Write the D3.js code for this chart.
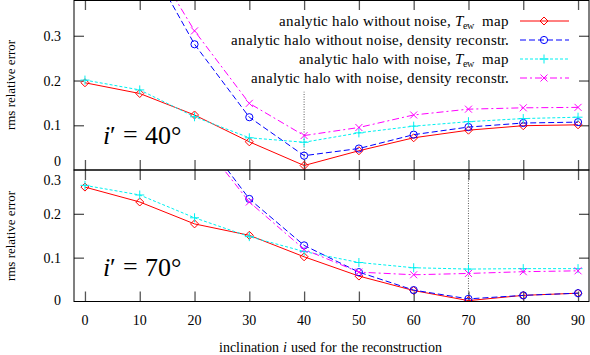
<!DOCTYPE html>
<html><head><meta charset="utf-8">
<script src="https://cdn.jsdelivr.net/npm/d3@7"></script>
<style>
@font-face{font-family:"ChartSerif";src:local("Liberation Serif"),local("LiberationSerif"),local("Times New Roman"),local("Tinos");font-style:normal;font-weight:400}
@font-face{font-family:"ChartSerif";src:local("Liberation Serif Italic"),local("LiberationSerif-Italic"),local("Times New Roman Italic");font-style:italic;font-weight:400}
html,body{margin:0;background:#fff}
svg text, svg tspan{font-family:"ChartSerif","Liberation Serif","Times New Roman",serif !important}
</style>
</head><body><svg id="c" width="590" height="355"></svg>
<script>
const inclinations = [0,10,20,30,40,50,60,70,80,90];
const xTicks = [0,10,20,30,40,50,60,70,80,90];
const topTicks = [0.1,0.2,0.3];
const botTicks = [0.1,0.2];
// i' = 40 panel
const top_TewNoNoise   = [0.195,0.171,0.123,0.063,0.010,0.043,0.072,0.089,0.099,0.101];
const top_DensNoNoise  = [0.72,0.50,0.281,0.118,0.032,0.048,0.079,0.096,0.105,0.107];
const top_TewNoise     = [0.201,0.179,0.119,0.072,0.062,0.083,0.098,0.108,0.115,0.118];
const top_DensNoise    = [0.74,0.514,0.311,0.149,0.077,0.095,0.123,0.136,0.139,0.140];
// i' = 70 panel
const bot_TewNoNoise   = [0.261,0.227,0.177,0.151,0.102,0.058,0.025,0.002,0.014,0.019];
const bot_DensNoNoise  = [0.80,0.58,0.40,0.234,0.128,0.067,0.026,0.006,0.014,0.019];
const bot_TewNoise     = [0.265,0.243,0.191,0.148,0.114,0.089,0.077,0.074,0.075,0.075];
const bot_DensNoise    = [0.78,0.56,0.386,0.227,0.119,0.067,0.061,0.064,0.068,0.070];
const legendLabels = ["analytic halo without noise, ", "analytic halo without noise, density reconstr.", "analytic halo with noise, ", "analytic halo with noise, density reconstr."];

const FONT = '"Liberation Serif", "Times New Roman", serif';
const svg = d3.select("#c");
function T(parent, size){
  return parent.append("text").attr("style", `font-family: ${FONT} !important; font-size: ${size}px`);
}
const x = d3.scaleLinear().domain([-2,92]).range([74,589]);
const yTop = d3.scaleLinear().domain([0,0.38]).range([170,0]);
const yBot = d3.scaleLinear().domain([0,0.3]).range([301.5,170]);

const styles = [
  {color:"#ff0000", dash:null, marker:"diamond"},
  {color:"#0000ff", dash:"6,3", marker:"circle"},
  {color:"#00f0f0", dash:"3,2", marker:"plus"},
  {color:"#ff00ff", dash:"7,3,2,3", marker:"cross"}
];

const defs = svg.append("defs");
defs.append("clipPath").attr("id","clipTop").append("rect").attr("x",74).attr("y",0).attr("width",515).attr("height",170);
defs.append("clipPath").attr("id","clipBot").append("rect").attr("x",74).attr("y",170).attr("width",515).attr("height",131.5);

function marker(g, type, cx, cy, color){
  if(type==="diamond"){
    g.append("path").attr("d",`M${cx},${cy-4}L${cx+4},${cy}L${cx},${cy+4}L${cx-4},${cy}Z`).attr("fill","none").attr("stroke",color).attr("stroke-width",1);
  } else if(type==="circle"){
    g.append("circle").attr("cx",cx).attr("cy",cy).attr("r",3.6).attr("fill","none").attr("stroke",color).attr("stroke-width",1);
  } else if(type==="plus"){
    g.append("path").attr("d",`M${cx-4.5},${cy}H${cx+4.5}M${cx},${cy-4.5}V${cy+4.5}`).attr("stroke",color).attr("stroke-width",1);
  } else {
    g.append("path").attr("d",`M${cx-3.5},${cy-3.5}L${cx+3.5},${cy+3.5}M${cx-3.5},${cy+3.5}L${cx+3.5},${cy-3.5}`).attr("stroke",color).attr("stroke-width",1);
  }
}

function panel(y, series, clipId, yTicks, vline){
  const [y0,y1] = y.range();
  const gl = svg.append("g").attr("transform","translate(74,0)")
    .call(d3.axisLeft(y).tickValues(yTicks).tickSize(-10).tickPadding(13).tickFormat(d3.format(".1f")));
  const gr = svg.append("g").attr("transform","translate(589,0)")
    .call(d3.axisRight(y).tickValues(yTicks).tickSize(-10).tickFormat(""));
  const gb = svg.append("g").attr("transform",`translate(0,${y0})`)
    .call(d3.axisBottom(x).tickValues(xTicks).tickSize(-10).tickFormat(""));
  const gt = svg.append("g").attr("transform",`translate(0,${y1})`)
    .call(d3.axisTop(x).tickValues(xTicks).tickSize(-10).tickFormat(""));
  [gl,gr,gb,gt].forEach(g=>{
    g.select(".domain").remove();
    g.attr("font-family",FONT).attr("font-size",14);
    g.selectAll(".tick line").attr("stroke","#555").attr("stroke-width",1.3);
    g.selectAll("text").attr("style", `font-family: ${FONT} !important; font-size: 14px`).attr("fill","#000");
  });
  svg.append("line").attr("x1",x(vline[0])).attr("x2",x(vline[0])).attr("y1",y(0)).attr("y2",y(vline[1]))
    .attr("stroke","#333").attr("stroke-width",0.8).attr("stroke-dasharray","1,1.5");
  const g = svg.append("g").attr("clip-path",`url(#${clipId})`);
  const line = d3.line().x((d,i)=>x(inclinations[i])).y(d=>y(d));
  series.forEach((s,k)=>{
    const st = styles[k];
    g.append("path").attr("d",line(s)).attr("fill","none").attr("stroke",st.color).attr("stroke-width",1)
      .attr("stroke-dasharray",st.dash);
    s.forEach((v,i)=>marker(g, st.marker, x(inclinations[i]), y(v), st.color));
  });
}

panel(yTop,[top_TewNoNoise,top_DensNoNoise,top_TewNoise,top_DensNoise],"clipTop",topTicks,[40,0.175]);
panel(yBot,[bot_TewNoNoise,bot_DensNoNoise,bot_TewNoise,bot_DensNoise],"clipBot",botTicks,[70,0.3]);

T(svg,14).attr("x",61).attr("y",yTop(0)-8).attr("text-anchor","end").attr("dy","0.32em").text("0");
T(svg,14).attr("x",61).attr("y",yBot(0.3)+11).attr("text-anchor","end").attr("dy","0.32em").text("0.3");
T(svg,14).attr("x",61).attr("y",yBot(0)-1).attr("text-anchor","end").attr("dy","0.32em").text("0");

svg.append("rect").attr("x",74).attr("y",0.5).attr("width",515).attr("height",169.5).attr("fill","none").attr("stroke","#000").attr("stroke-width",1);
svg.append("rect").attr("x",74).attr("y",170).attr("width",515).attr("height",131.5).attr("fill","none").attr("stroke","#000").attr("stroke-width",1);

xTicks.forEach(d=>{
  T(svg,14).attr("x",x(d)).attr("y",325).attr("text-anchor","middle").text(d);
});

function panelLabel(yy, deg){
  const t = T(svg,26).attr("x",103).attr("y",yy);
  t.append("tspan").attr("font-style","italic").text("i");
  t.append("tspan").text("\u2032 = " + deg + "\u00B0");
}
panelLabel(144,40);
panelLabel(276,70);

[[15,85],[15,236]].forEach(([xx,yy])=>{
  T(svg,13).attr("transform",`translate(${xx},${yy}) rotate(-90)`).attr("text-anchor","middle").text("rms relative error");
});

const xl = T(svg,14).attr("x",330).attr("y",352).attr("text-anchor","middle");
xl.append("tspan").text("inclination ");
xl.append("tspan").attr("font-style","italic").text("i");
xl.append("tspan").text(" used for the reconstruction");

const legY = [21,40,59,78];
legendLabels.forEach((lab,k)=>{
  const t = T(svg,14.5).attr("x",509).attr("y",legY[k]).attr("dy","0.32em").attr("text-anchor","end");
  t.append("tspan").text(lab);
  if(k===0 || k===2){
    t.append("tspan").attr("font-style","italic").text("T");
    t.append("tspan").attr("dy","3").attr("font-size","10px").text("ew");
    t.append("tspan").attr("dy","-3").text("\u2002map");
  }
  const st = styles[k];
  svg.append("line").attr("x1",520).attr("x2",569).attr("y1",legY[k]).attr("y2",legY[k])
    .attr("stroke",st.color).attr("stroke-width",1).attr("stroke-dasharray",st.dash);
  marker(svg, st.marker, 544, legY[k], st.color);
});
</script></body></html>
